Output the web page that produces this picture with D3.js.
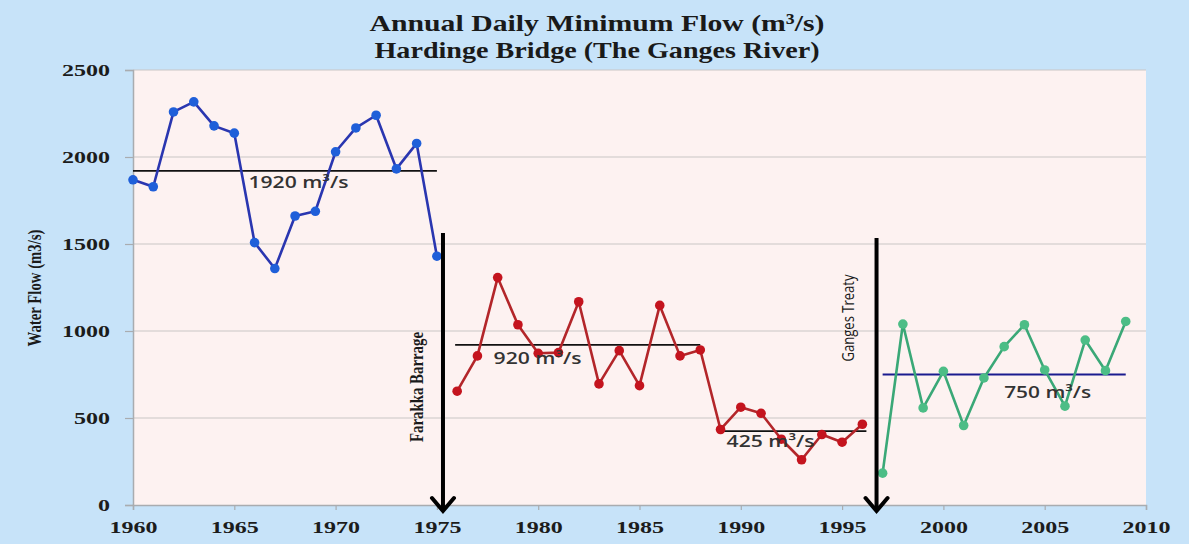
<!DOCTYPE html>
<html>
<head>
<meta charset="utf-8">
<script src="https://cdn.jsdelivr.net/npm/d3@7"></script>
<style>
  html, body { margin: 0; padding: 0; background: #c7e3f9; }
  svg { display: block; }
</style>
</head>
<body>
<svg id="chart" width="1189" height="544"></svg>
<script>
// ---------------- DATA ----------------
const titleLines = ["Annual Daily Minimum Flow (m\u00B3/s)", "Hardinge Bridge (The Ganges River)"];
const yAxisTitle = "Water Flow (m3/s)";

const yTicks = [0, 500, 1000, 1500, 2000, 2500];
const xTicks = [1960, 1965, 1970, 1975, 1980, 1985, 1990, 1995, 2000, 2005, 2010];

const preYears   = [1960,1961,1962,1963,1964,1965,1966,1967,1968,1969,1970,1971,1972,1973,1974,1975];
const preFlow    = [1869,1829,2259,2317,2179,2137,1508,1359,1661,1688,2030,2167,2240,1932,2078,1430];

const postYears  = [1976,1977,1978,1979,1980,1981,1982,1983,1984,1985,1986,1987,1988,1989,1990,1991,1992,1993,1994,1995,1996];
const postFlow   = [654,857,1307,1036,872,876,1168,696,887,686,1147,857,891,434,562,527,378,260,405,361,464];

const treatyYears = [1997,1998,1999,2000,2001,2002,2003,2004,2005,2006,2007,2008,2009];
const treatyFlow  = [183,1040,558,768,457,730,910,1036,776,568,948,772,1055];

const meanValues = [1920, 920, 425, 750];
const meanStart  = [1960, 1975.9, 1989, 1997];
const meanEnd    = [1975, 1988, 1996.2, 2009];
const meanLabels = ["1920 m\u00B3/s", "920 m\u00B3/s", "425 m\u00B3/s", "750 m\u00B3/s"];

const eventYears  = [1975.3, 1996.7];
const eventLabels = ["Farakka Barrage", "Ganges Treaty"];

// ---------------- LAYOUT ----------------
const svg = d3.select("#chart");
const W = 1189, H = 544;
const plot = { left: 133, right: 1146, top: 70, bottom: 505 };

svg.append("rect").attr("width", W).attr("height", H).attr("fill", "#c7e3f9");

const x = d3.scaleLinear().domain([1960, 2010]).range([plot.left, plot.right]);
const y = d3.scaleLinear().domain([0, 2500]).range([plot.bottom, plot.top]);

svg.append("rect")
  .attr("x", plot.left).attr("y", plot.top)
  .attr("width", plot.right - plot.left).attr("height", plot.bottom - plot.top)
  .attr("fill", "#fdf2f1");

// gridlines
svg.append("g")
  .selectAll("line").data(yTicks.filter(d => d > 0)).join("line")
  .attr("x1", plot.left).attr("x2", plot.right)
  .attr("y1", d => y(d)).attr("y2", d => y(d))
  .attr("stroke", "#c9c6c6").attr("stroke-width", 1.2);

// axes
const serif = "'Liberation Serif', 'DejaVu Serif', serif";
const yAxis = svg.append("g").attr("transform", `translate(${plot.left},0)`)
  .call(d3.axisLeft(y).tickValues(yTicks).tickSize(8).tickFormat(d3.format("d")));
yAxis.select(".domain").attr("stroke", "#a9acb0").attr("stroke-width", 1.5);
yAxis.selectAll(".tick line").attr("stroke", "#a9acb0").attr("stroke-width", 1.2);
yAxis.selectAll(".tick text")
  .attr("x", -23).attr("dy", "0.35em")
  .attr("font-family", serif).attr("font-weight", "bold").attr("font-size", 16)
  .attr("fill", "#1c1c1c")
  .attr("textLength", d => String(d).length * 12).attr("lengthAdjust", "spacingAndGlyphs");

const xAxis = svg.append("g").attr("transform", `translate(0,${plot.bottom})`)
  .call(d3.axisBottom(x).tickValues(xTicks).tickSize(5).tickFormat(d3.format("d")));
xAxis.select(".domain").attr("stroke", "#a9acb0").attr("stroke-width", 1.5);
xAxis.selectAll(".tick line").attr("stroke", "#a9acb0").attr("stroke-width", 1.2);
xAxis.selectAll(".tick text")
  .attr("y", 28).attr("dy", 0)
  .attr("font-family", serif).attr("font-weight", "bold").attr("font-size", 17)
  .attr("fill", "#1c1c1c")
  .attr("textLength", 48).attr("lengthAdjust", "spacingAndGlyphs");

// mean lines
const meanColors = ["#111", "#111", "#111", "#1b1b8f"];
svg.append("g").selectAll("line").data(meanValues).join("line")
  .attr("x1", (d, i) => x(meanStart[i])).attr("x2", (d, i) => x(meanEnd[i]))
  .attr("y1", d => y(d)).attr("y2", d => y(d))
  .attr("stroke", (d, i) => meanColors[i]).attr("stroke-width", 1.8);

// series
function drawSeries(years, vals, lineColor, dotColor) {
  const pts = years.map((yr, i) => [yr, vals[i]]);
  svg.append("path").datum(pts)
    .attr("fill", "none").attr("stroke", lineColor).attr("stroke-width", 2.6)
    .attr("stroke-linejoin", "round")
    .attr("d", d3.line().x(d => x(d[0])).y(d => y(d[1])));
  svg.append("g").selectAll("circle").data(pts).join("circle")
    .attr("cx", d => x(d[0])).attr("cy", d => y(d[1])).attr("r", 4.8)
    .attr("fill", dotColor);
}
drawSeries(preYears, preFlow, "#2a36b0", "#1f5fd9");
drawSeries(postYears, postFlow, "#b3262a", "#c4141e");
drawSeries(treatyYears, treatyFlow, "#3aa877", "#4cbd86");

// mean labels
const sans = "'Open Sans', 'Noto Sans', sans-serif";
const meanLabelX  = [1965.7, 1977.8, 1989.3, 2003.0];
const meanLabelDy = [17, 19, 16, 23];
const meanLabelW  = [100, 88, 88, 87];
svg.append("g").selectAll("text").data(meanLabels).join("text")
  .attr("x", (d, i) => x(meanLabelX[i]))
  .attr("y", (d, i) => y(meanValues[i]) + meanLabelDy[i])
  .attr("font-family", sans).attr("font-weight", "600").attr("font-size", 16)
  .attr("fill", "#333")
  .attr("textLength", (d, i) => meanLabelW[i]).attr("lengthAdjust", "spacingAndGlyphs")
  .text(d => d);

// event arrows
const arrowTop = [233, 238];
const arrowTip = plot.bottom + 6;
eventYears.forEach((yr, i) => {
  const ax = x(yr);
  svg.append("line")
    .attr("x1", ax).attr("x2", ax).attr("y1", arrowTop[i]).attr("y2", arrowTip - 2)
    .attr("stroke", "#000").attr("stroke-width", 4);
  svg.append("path")
    .attr("d", `M${ax - 11},${arrowTip - 13} L${ax},${arrowTip} L${ax + 11},${arrowTip - 13}`)
    .attr("fill", "none").attr("stroke", "#000").attr("stroke-width", 4)
    .attr("stroke-linejoin", "miter").attr("stroke-linecap", "round");
});

// event labels (rotated)
const evCx = [416.5, 848], evCy = [387, 318], evLen = [110, 87];
const evFont = [serif, sans], evSize = [19, 17], evWeight = ["bold", "normal"];
eventLabels.forEach((t, i) => {
  svg.append("text")
    .attr("transform", `translate(${evCx[i] + 6},${evCy[i]}) rotate(-90)`)
    .attr("text-anchor", "middle")
    .attr("font-family", evFont[i]).attr("font-size", evSize[i]).attr("font-weight", evWeight[i])
    .attr("fill", "#1a1a1a")
    .attr("textLength", evLen[i]).attr("lengthAdjust", "spacingAndGlyphs")
    .text(t);
});

// y axis title
svg.append("text")
  .attr("transform", `translate(41,288) rotate(-90)`)
  .attr("text-anchor", "middle")
  .attr("font-family", serif).attr("font-size", 19).attr("font-weight", "bold")
  .attr("fill", "#1a1a1a")
  .attr("textLength", 117).attr("lengthAdjust", "spacingAndGlyphs")
  .text(yAxisTitle);

// title
const titleY = [31, 58], titleW = [455, 445];
titleLines.forEach((t, i) => {
  svg.append("text")
    .attr("x", 597).attr("y", titleY[i])
    .attr("text-anchor", "middle")
    .attr("font-family", serif).attr("font-size", 24).attr("font-weight", "bold")
    .attr("fill", "#1a1a1a")
    .attr("textLength", titleW[i]).attr("lengthAdjust", "spacingAndGlyphs")
    .text(t);
});
</script>
</body>
</html>
